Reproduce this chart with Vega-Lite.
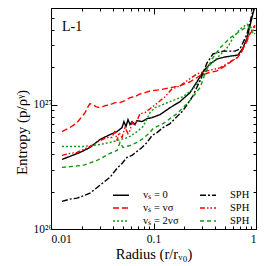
{
  "$schema": "https://vega.github.io/schema/vega-lite/v6.json",
  "width": 205,
  "height": 221,
  "autosize": {"type": "none"},
  "padding": {"left": 51, "top": 8, "right": 9, "bottom": 37},
  "background": "white",
  "config": {
    "view": {"stroke": "black", "strokeWidth": 1},
    "font": "Liberation Serif",
    "axis": {"grid": false, "domainColor": "black", "tickColor": "black", "labelColor": "black", "titleColor": "black", "labelFont": "Liberation Serif", "titleFont": "Liberation Serif", "titleFontWeight": "normal", "labelOverlap": false}
  },
  "data": {"values": [
    {"s":"v0","r":0.0128,"S":3.63e26},{"s":"v0","r":0.0153,"S":3.84e26},{"s":"v0","r":0.0192,"S":4.13e26},{"s":"v0","r":0.0240,"S":4.53e26},{"s":"v0","r":0.0301,"S":5.25e26},{"s":"v0","r":0.0377,"S":5.75e26},{"s":"v0","r":0.0441,"S":6.08e26},{"s":"v0","r":0.0493,"S":6.55e26},{"s":"v0","r":0.0515,"S":7.31e26},{"s":"v0","r":0.0539,"S":6.67e26},{"s":"v0","r":0.0564,"S":7.59e26},{"s":"v0","r":0.059,"S":6.92e26},{"s":"v0","r":0.0617,"S":7.31e26},{"s":"v0","r":0.066,"S":6.92e26},{"s":"v0","r":0.069,"S":7.45e26},{"s":"v0","r":0.0772,"S":7.31e26},{"s":"v0","r":0.0865,"S":7.73e26},{"s":"v0","r":0.0967,"S":7.87e26},{"s":"v0","r":0.1157,"S":8.32e26},{"s":"v0","r":0.145,"S":9.46e26},{"s":"v0","r":0.1815,"S":1.06e27},{"s":"v0","r":0.227,"S":1.25e27},{"s":"v0","r":0.2656,"S":1.53e27},{"s":"v0","r":0.304,"S":1.84e27},{"s":"v0","r":0.356,"S":2.13e27},{"s":"v0","r":0.417,"S":2.33e27},{"s":"v0","r":0.499,"S":2.42e27},{"s":"v0","r":0.583,"S":2.47e27},{"s":"v0","r":0.667,"S":2.51e27},{"s":"v0","r":0.746,"S":2.86e27},{"s":"v0","r":0.817,"S":3.44e27},{"s":"v0","r":0.873,"S":4.29e27},{"s":"v0","r":0.935,"S":5.45e27},{"s":"v0","r":0.977,"S":6.19e27},
    {"s":"v1","r":0.0128,"S":6.08e26},{"s":"v1","r":0.0153,"S":6.55e26},{"s":"v1","r":0.01795,"S":7.18e26},{"s":"v1","r":0.02004,"S":8.02e26},{"s":"v1","r":0.0215,"S":8.63e26},{"s":"v1","r":0.02297,"S":9.64e26},{"s":"v1","r":0.024,"S":1.02e27},{"s":"v1","r":0.0257,"S":1.0e27},{"s":"v1","r":0.02748,"S":9.64e26},{"s":"v1","r":0.0301,"S":9.46e26},{"s":"v1","r":0.03365,"S":9.82e26},{"s":"v1","r":0.0377,"S":1.0e27},{"s":"v1","r":0.0421,"S":1.04e27},{"s":"v1","r":0.0471,"S":1.04e27},{"s":"v1","r":0.0527,"S":1.08e27},{"s":"v1","r":0.059,"S":1.14e27},{"s":"v1","r":0.066,"S":1.16e27},{"s":"v1","r":0.0738,"S":1.22e27},{"s":"v1","r":0.0826,"S":1.25e27},{"s":"v1","r":0.0924,"S":1.29e27},{"s":"v1","r":0.1157,"S":1.32e27},{"s":"v1","r":0.145,"S":1.37e27},{"s":"v1","r":0.1815,"S":1.42e27},{"s":"v1","r":0.227,"S":1.53e27},{"s":"v1","r":0.2843,"S":1.71e27},{"s":"v1","r":0.34,"S":1.80e27},{"s":"v1","r":0.417,"S":1.87e27},{"s":"v1","r":0.499,"S":2.05e27},{"s":"v1","r":0.583,"S":2.25e27},{"s":"v1","r":0.667,"S":2.42e27},{"s":"v1","r":0.746,"S":2.81e27},{"s":"v1","r":0.817,"S":3.25e27},{"s":"v1","r":0.873,"S":3.70e27},{"s":"v1","r":0.935,"S":4.06e27},{"s":"v1","r":0.977,"S":4.29e27},
    {"s":"v2","r":0.0128,"S":4.61e26},{"s":"v2","r":0.0153,"S":4.61e26},{"s":"v2","r":0.0205,"S":4.61e26},{"s":"v2","r":0.0301,"S":4.79e26},{"s":"v2","r":0.0377,"S":4.97e26},{"s":"v2","r":0.0441,"S":5.15e26},{"s":"v2","r":0.0527,"S":5.35e26},{"s":"v2","r":0.059,"S":5.55e26},{"s":"v2","r":0.069,"S":6.08e26},{"s":"v2","r":0.0791,"S":6.67e26},{"s":"v2","r":0.0865,"S":7.73e26},{"s":"v2","r":0.0924,"S":8.63e26},{"s":"v2","r":0.1035,"S":9.46e26},{"s":"v2","r":0.145,"S":1.06e27},{"s":"v2","r":0.194,"S":1.16e27},{"s":"v2","r":0.2427,"S":1.34e27},{"s":"v2","r":0.2843,"S":1.56e27},{"s":"v2","r":0.34,"S":2.01e27},{"s":"v2","r":0.417,"S":2.38e27},{"s":"v2","r":0.5214,"S":2.86e27},{"s":"v2","r":0.597,"S":3.44e27},{"s":"v2","r":0.698,"S":4.06e27},{"s":"v2","r":0.817,"S":4.45e27},{"s":"v2","r":0.914,"S":4.13e27},{"s":"v2","r":0.977,"S":3.70e27},
    {"s":"s0","r":0.0128,"S":1.67e26},{"s":"s0","r":0.0153,"S":1.74e26},{"s":"s0","r":0.01795,"S":1.77e26},{"s":"s0","r":0.024,"S":1.94e26},{"s":"s0","r":0.0301,"S":2.25e26},{"s":"s0","r":0.0377,"S":2.61e26},{"s":"s0","r":0.0441,"S":3.08e26},{"s":"s0","r":0.0493,"S":3.37e26},{"s":"s0","r":0.0551,"S":3.77e26},{"s":"s0","r":0.0617,"S":3.91e26},{"s":"s0","r":0.069,"S":4.21e26},{"s":"s0","r":0.0772,"S":4.53e26},{"s":"s0","r":0.0865,"S":4.97e26},{"s":"s0","r":0.0967,"S":5.65e26},{"s":"s0","r":0.1082,"S":5.97e26},{"s":"s0","r":0.1239,"S":6.55e26},{"s":"s0","r":0.145,"S":7.05e26},{"s":"s0","r":0.1694,"S":8.02e26},{"s":"s0","r":0.194,"S":8.95e26},{"s":"s0","r":0.2427,"S":1.18e27},{"s":"s0","r":0.2843,"S":1.56e27},{"s":"s0","r":0.3326,"S":2.17e27},{"s":"s0","r":0.3805,"S":2.56e27},{"s":"s0","r":0.4767,"S":2.70e27},{"s":"s0","r":0.624,"S":2.70e27},{"s":"s0","r":0.698,"S":2.81e27},{"s":"s0","r":0.817,"S":3.70e27},{"s":"s0","r":0.914,"S":5.35e27},{"s":"s0","r":0.977,"S":6.43e27},
    {"s":"s1","r":0.0128,"S":3.91e26},{"s":"s1","r":0.0153,"S":4.06e26},{"s":"s1","r":0.01795,"S":4.13e26},{"s":"s1","r":0.024,"S":4.61e26},{"s":"s1","r":0.0301,"S":5.15e26},{"s":"s1","r":0.0352,"S":5.45e26},{"s":"s1","r":0.0394,"S":5.45e26},{"s":"s1","r":0.0421,"S":6.19e26},{"s":"s1","r":0.0441,"S":5.15e26},{"s":"s1","r":0.046,"S":5.97e26},{"s":"s1","r":0.0493,"S":5.45e26},{"s":"s1","r":0.0527,"S":6.55e26},{"s":"s1","r":0.0564,"S":5.86e26},{"s":"s1","r":0.059,"S":6.19e26},{"s":"s1","r":0.0617,"S":7.18e26},{"s":"s1","r":0.066,"S":6.79e26},{"s":"s1","r":0.0738,"S":8.47e26},{"s":"s1","r":0.0826,"S":8.63e26},{"s":"s1","r":0.0924,"S":9.29e26},{"s":"s1","r":0.1106,"S":1.04e27},{"s":"s1","r":0.1295,"S":1.16e27},{"s":"s1","r":0.1514,"S":1.34e27},{"s":"s1","r":0.1815,"S":1.42e27},{"s":"s1","r":0.212,"S":1.56e27},{"s":"s1","r":0.2656,"S":1.77e27},{"s":"s1","r":0.3326,"S":1.87e27},{"s":"s1","r":0.4455,"S":1.98e27},{"s":"s1","r":0.557,"S":2.21e27},{"s":"s1","r":0.653,"S":2.38e27},{"s":"s1","r":0.73,"S":2.70e27},{"s":"s1","r":0.817,"S":3.37e27},{"s":"s1","r":0.873,"S":3.77e27},{"s":"s1","r":0.935,"S":4.13e27},{"s":"s1","r":0.977,"S":4.37e27},
    {"s":"s2","r":0.0128,"S":3.13e26},{"s":"s2","r":0.0205,"S":3.25e26},{"s":"s2","r":0.0281,"S":3.56e26},{"s":"s2","r":0.0377,"S":4.06e26},{"s":"s2","r":0.0441,"S":4.29e26},{"s":"s2","r":0.0471,"S":4.97e26},{"s":"s2","r":0.0504,"S":4.53e26},{"s":"s2","r":0.059,"S":4.70e26},{"s":"s2","r":0.069,"S":4.97e26},{"s":"s2","r":0.0791,"S":5.35e26},{"s":"s2","r":0.0924,"S":5.97e26},{"s":"s2","r":0.0989,"S":6.43e26},{"s":"s2","r":0.1239,"S":7.05e26},{"s":"s2","r":0.1694,"S":8.47e26},{"s":"s2","r":0.227,"S":1.08e27},{"s":"s2","r":0.2843,"S":1.37e27},{"s":"s2","r":0.3179,"S":1.77e27},{"s":"s2","r":0.3724,"S":2.33e27},{"s":"s2","r":0.4455,"S":2.86e27},{"s":"s2","r":0.557,"S":3.44e27},{"s":"s2","r":0.698,"S":3.91e27},{"s":"s2","r":0.835,"S":4.29e27},{"s":"s2","r":0.935,"S":3.77e27}
  ]},
  "layer": [
    {
      "mark": {"type": "line", "strokeWidth": 1.4, "clip": true},
      "encoding": {
        "x": {"field": "r", "type": "quantitative",
          "scale": {"type": "log", "domain": [0.01, 1], "nice": false},
          "axis": {"orient": "bottom", "title": "Radius (r/rᵥ₀)", "titleFontSize": 14.5, "titlePadding": 0, "labelFontSize": 11.5, "labelPadding": 10,
            "values": [0.01,0.02,0.03,0.04,0.05,0.06,0.07,0.08,0.09,0.1,0.2,0.3,0.4,0.5,0.6,0.7,0.8,0.9,1],
            "labelExpr": "datum.value == 0.01 ? '0.01' : datum.value == 0.1 ? '0.1' : datum.value == 1 ? '1' : ''",
            "tickSize": {"condition": {"test": "datum.value == 0.01 || datum.value == 0.1 || datum.value == 1", "value": -6}, "value": -3},
            "domain": false}},
        "y": {"field": "S", "type": "quantitative",
          "scale": {"type": "log", "domain": [1e26, 6e27], "nice": false},
          "axis": {"orient": "left", "title": "Entropy (p/ρᵞ)", "titleFontSize": 15, "titlePadding": 4, "titleY": 124, "labelFontSize": 11.5, "labelPadding": 5,
            "values": [1e26,2e26,3e26,4e26,5e26,6e26,7e26,8e26,9e26,1e27,2e27,3e27,4e27,5e27,6e27],
            "labelExpr": "datum.value == 1e26 ? '10²⁶' : datum.value == 1e27 ? '10²⁷' : ''",
            "tickSize": {"condition": {"test": "datum.value == 1e26 || datum.value == 1e27", "value": -6}, "value": -3},
            "domain": false}},
        "color": {"field": "s", "type": "nominal",
          "scale": {"domain": ["v0","v1","v2","s0","s1","s2"], "range": ["#000000","#ff0000","#119911","#000000","#ff0000","#119911"]},
          "legend": {"orient": "none", "legendX": 64, "legendY": 181, "columns": 2, "title": null,
            "symbolType": "M-1.6,0H1.6", "symbolSize": 100, "symbolStrokeWidth": 1.5,
            "labelFont": "Liberation Serif", "labelFontSize": 10.5, "labelColor": "black", "labelOffset": 16, "columnPadding": 18, "rowPadding": 1,
            "labelExpr": "datum.label == 'v0' ? 'vₛ = 0' : datum.label == 'v1' ? 'vₛ = vσ' : datum.label == 'v2' ? 'vₛ = 2vσ' : 'SPH'"}},
        "strokeDash": {"field": "s", "type": "nominal",
          "scale": {"domain": ["v0","v1","v2","s0","s1","s2"], "range": [[1,0],[6,3],[2,2],[6,2,2,2],[5,2,1.5,2,1.5,2],[4,3]]},
          "legend": {"orient": "none", "legendX": 64, "legendY": 181, "columns": 2, "title": null,
            "symbolType": "M-1.6,0H1.6", "symbolSize": 100, "symbolStrokeWidth": 1.5,
            "labelFont": "Liberation Serif", "labelFontSize": 10.5, "labelColor": "black", "labelOffset": 16, "columnPadding": 18, "rowPadding": 1,
            "labelExpr": "datum.label == 'v0' ? 'vₛ = 0' : datum.label == 'v1' ? 'vₛ = vσ' : datum.label == 'v2' ? 'vₛ = 2vσ' : 'SPH'"}}
      }
    },
    {
      "mark": {"type": "point", "opacity": 0},
      "encoding": {
        "x": {"field": "r", "type": "quantitative",
          "axis": {"orient": "top", "title": null, "labels": false, "domain": false,
            "values": [0.01,0.02,0.03,0.04,0.05,0.06,0.07,0.08,0.09,0.1,0.2,0.3,0.4,0.5,0.6,0.7,0.8,0.9,1],
            "tickSize": {"condition": {"test": "datum.value == 0.01 || datum.value == 0.1 || datum.value == 1", "value": -6}, "value": -3}}},
        "y": {"field": "S", "type": "quantitative",
          "axis": {"orient": "right", "title": null, "labels": false, "domain": false,
            "values": [1e26,2e26,3e26,4e26,5e26,6e26,7e26,8e26,9e26,1e27,2e27,3e27,4e27,5e27,6e27],
            "tickSize": {"condition": {"test": "datum.value == 1e26 || datum.value == 1e27", "value": -6}, "value": -3}}}
      }
    },
    {
      "data": {"values": [{"label": "L-1", "r": 0.0128, "S": 4.2e27}]},
      "mark": {"type": "text", "align": "left", "baseline": "middle", "font": "Liberation Serif", "fontSize": 14, "fontWeight": "normal", "fill": "black"},
      "encoding": {
        "x": {"field": "r", "type": "quantitative", "axis": null},
        "y": {"field": "S", "type": "quantitative", "axis": null},
        "text": {"field": "label"}
      }
    }
  ],
  "resolve": {"axis": {"x": "independent", "y": "independent"}}
}
